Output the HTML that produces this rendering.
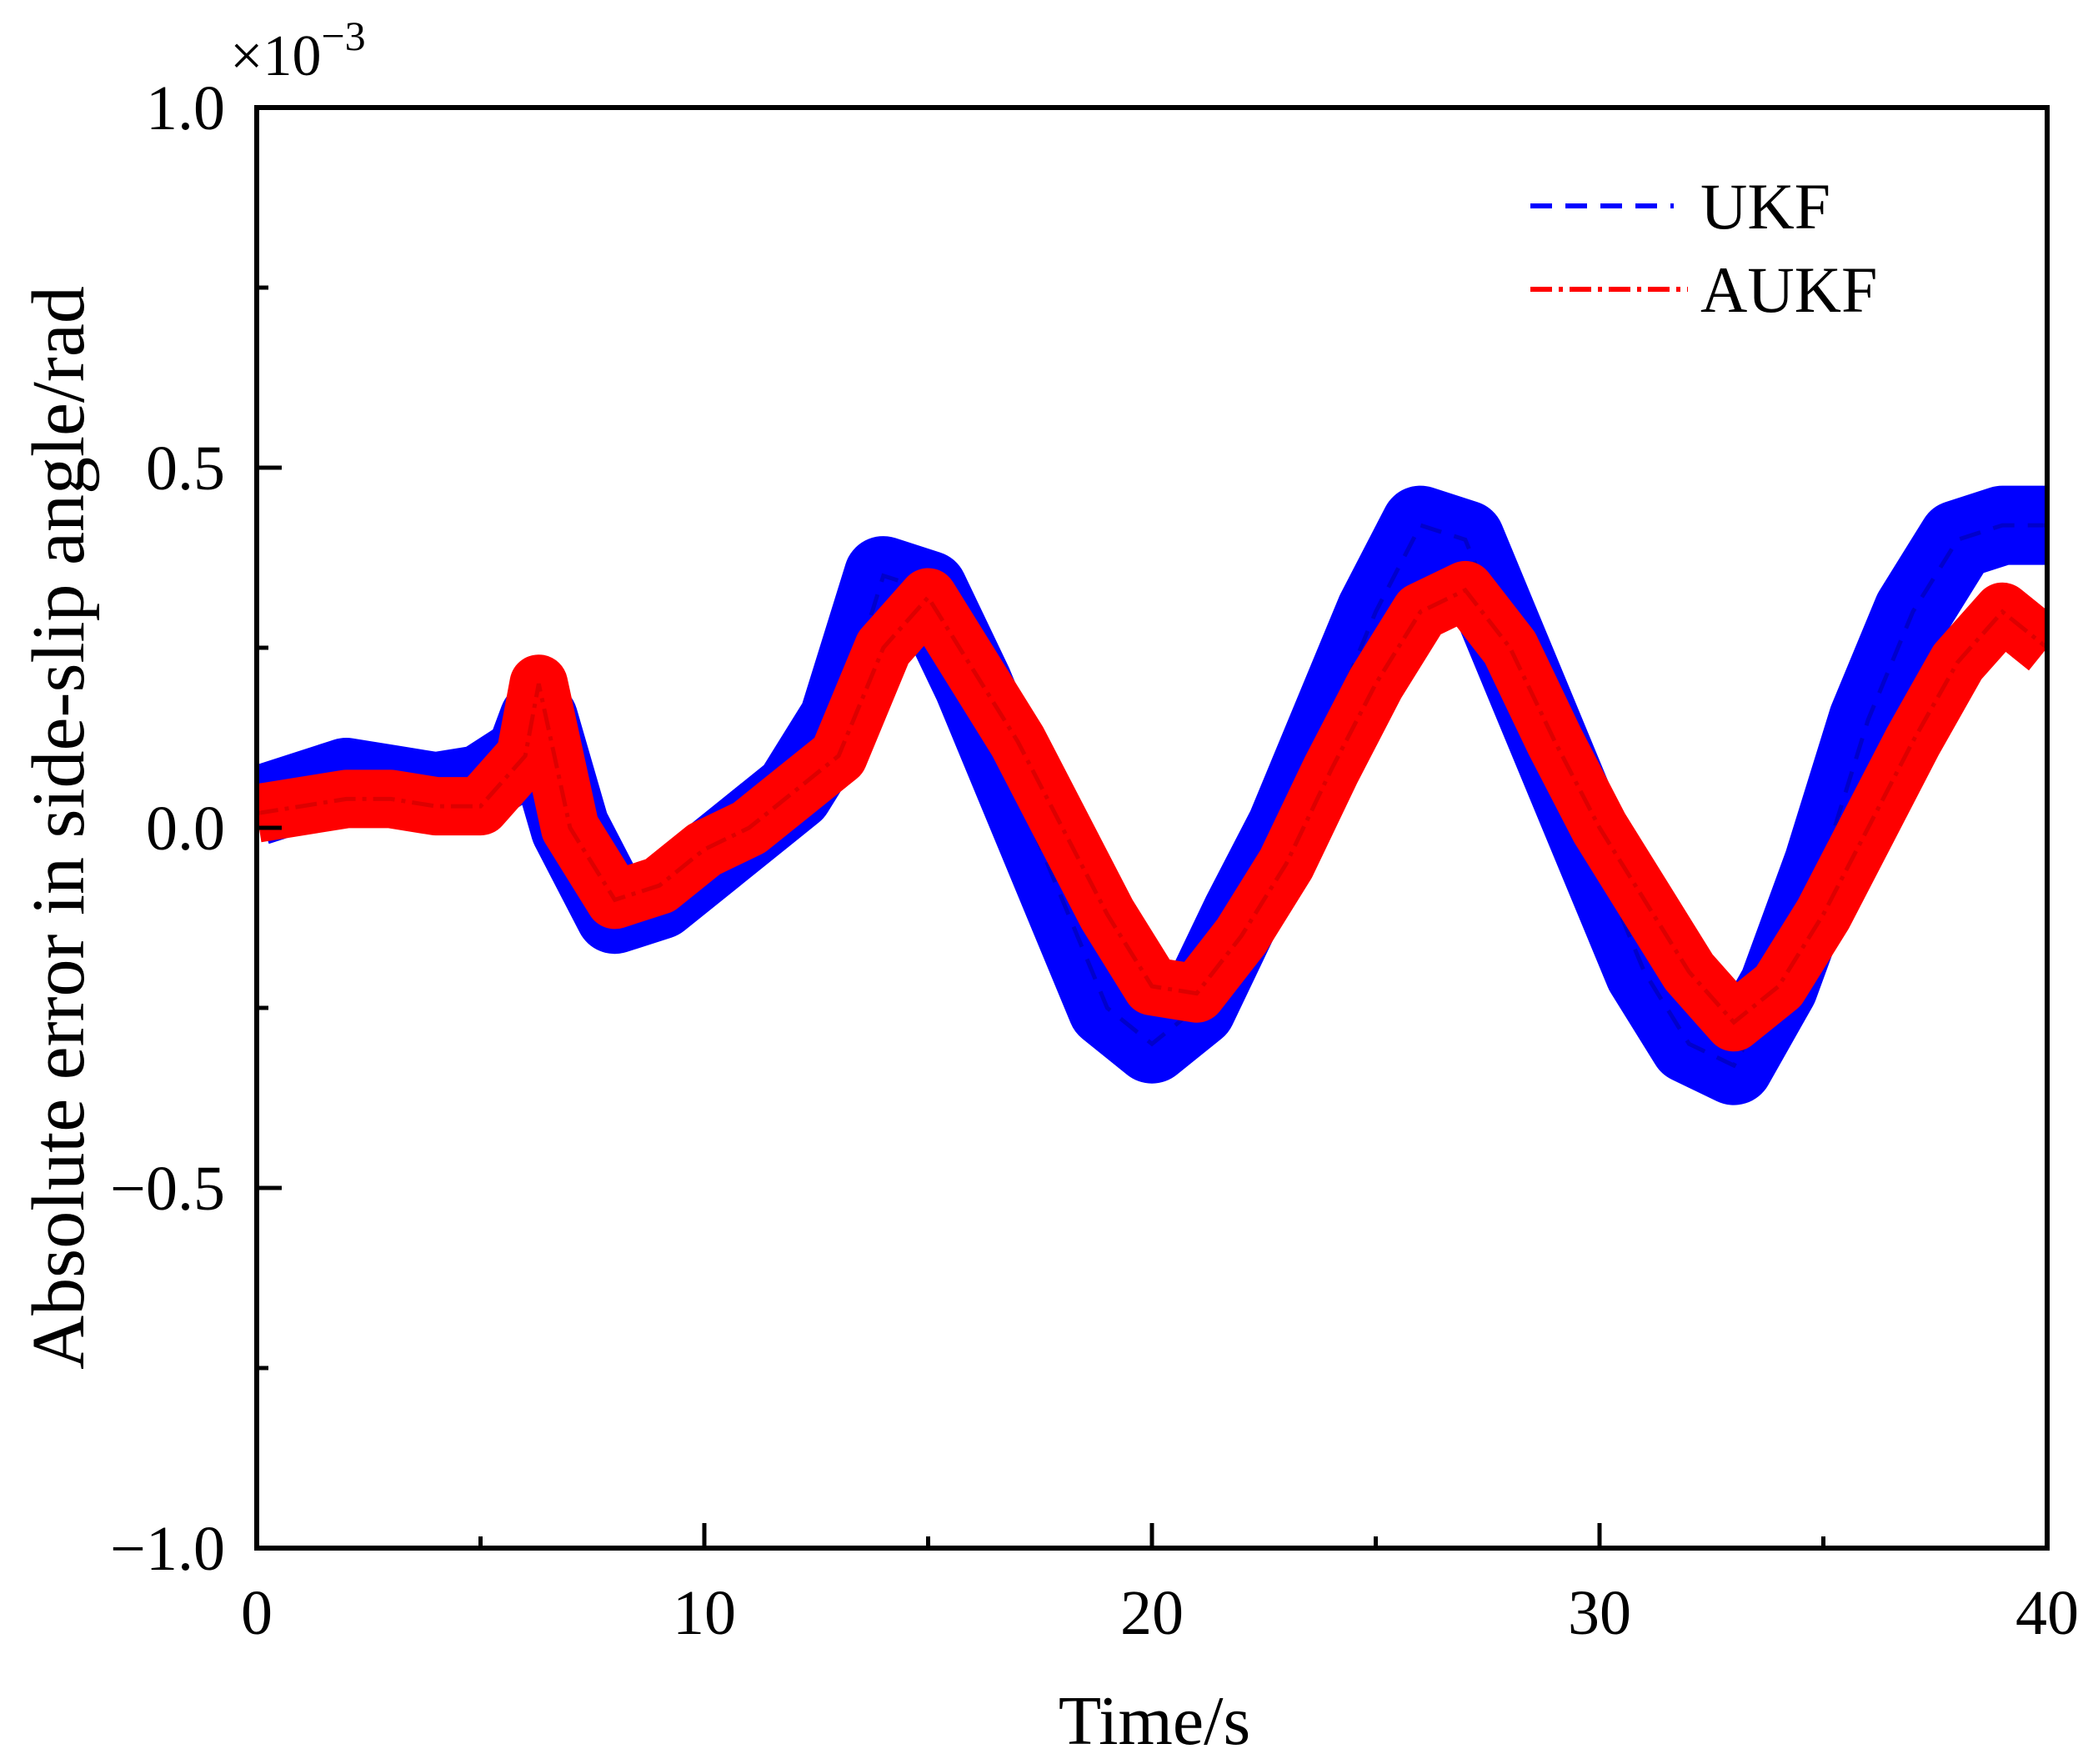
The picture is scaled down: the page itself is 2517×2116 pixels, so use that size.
<!DOCTYPE html>
<html><head><meta charset="utf-8"><style>
body{margin:0;background:#fff;}
svg{display:block;font-family:"Liberation Serif",serif;}
</style></head><body>
<svg id="chart" width="2517" height="2116" viewBox="0 0 2517 2116" xmlns="http://www.w3.org/2000/svg">
<defs><clipPath id="pc"><rect x="308" y="129" width="2148" height="1728"/></clipPath></defs>
<g id="plot" clip-path="url(#pc)"></g>
<rect x="308" y="129" width="2148" height="1728" fill="none" stroke="#000" stroke-width="6"/>
<g id="axes"></g>
<text x="276" y="90" font-size="70">×10<tspan dy="-30" font-size="50">−3</tspan></text>
<text x="1385" y="2092" font-size="84" text-anchor="middle">Time/s</text>
<text transform="translate(100,993) rotate(-90)" font-size="90" text-anchor="middle">Absolute error in side-slip angle/rad</text>
<g>
<line x1="1836" y1="247" x2="2008" y2="247" stroke="#0000ff" stroke-width="6" stroke-dasharray="26,16"/>
<text x="2040" y="274" font-size="78">UKF</text>
<line x1="1836" y1="347" x2="2025" y2="347" stroke="#ff0000" stroke-width="6" stroke-dasharray="26,8,5,8"/>
<text x="2040" y="374" font-size="78">AUKF</text>
</g>
</svg>
<script>
const times=[0,1,2,3,4,5,6,6.3,7,8,9,10,11,12,13,14,15,16,17,18,19,20,21,22,23,24,25,26,27,28,29,30,31,32,33,34,35,36,37,38,39,40];
const ukfValues=[0.03,0.05,0.07,0.06,0.05,0.06,0.1,0.15,0.0,-0.12,-0.1,-0.05,0.0,0.05,0.15,0.35,0.33,0.2,0.05,-0.1,-0.25,-0.3,-0.25,-0.12,0.0,0.15,0.3,0.42,0.4,0.25,0.1,-0.05,-0.2,-0.3,-0.33,-0.22,-0.05,0.15,0.3,0.4,0.42,0.42];
const aukfValues=[0.02,0.03,0.04,0.04,0.03,0.03,0.1,0.2,0.0,-0.1,-0.08,-0.03,0.0,0.05,0.1,0.25,0.32,0.22,0.12,0.0,-0.12,-0.22,-0.23,-0.15,-0.05,0.08,0.2,0.3,0.33,0.25,0.12,0.0,-0.1,-0.2,-0.27,-0.22,-0.12,0.0,0.12,0.23,0.3,0.25];
const xTicks=[0,10,20,30,40];
const xMinor=[5,15,25,35];
const yTicks=[-1.0,-0.5,0.0,0.5,1.0];
const yTickLabels=["−1.0","−0.5","0.0","0.5","1.0"];
const yMinor=[-0.75,-0.25,0.25,0.75];

const X0=308,X1=2456,Y0=1857,Y1=129;
const xs=t=>X0+(t-0)/(40-0)*(X1-X0);
const ys=v=>Y0-(v+1)/(2)*(Y0-Y1);
const NS="http://www.w3.org/2000/svg";
const plot=document.getElementById('plot'),axes=document.getElementById('axes');
function mk(tag,attrs,parent){const e=document.createElementNS(NS,tag);for(const k in attrs)e.setAttribute(k,attrs[k]);parent.appendChild(e);return e;}
function pts(vals){return times.map((t,i)=>xs(t).toFixed(1)+','+ys(vals[i]).toFixed(1)).join(' ');}

const ub=mk('polyline',{points:pts(ukfValues),fill:'none',stroke:'#0000ff','stroke-width':95,'stroke-linejoin':'round','stroke-linecap':'butt'},plot);


const ul=mk('polyline',{points:pts(ukfValues),fill:'none',stroke:'#0000cc','stroke-width':5,'stroke-dasharray':'26,16'},plot);


const rb=mk('polyline',{points:pts(aukfValues),fill:'none',stroke:'#ff0000','stroke-width':70,'stroke-linejoin':'round','stroke-linecap':'butt'},plot);


const rl=mk('polyline',{points:pts(aukfValues),fill:'none',stroke:'#dd0000','stroke-width':5,'stroke-dasharray':'26,8,5,8'},plot);



xTicks.forEach(t=>{
  const l=mk('line',{x1:xs(t),x2:xs(t),y1:Y0,y2:Y0-30,stroke:'#000','stroke-width':5},axes);
  
  
  const tx=mk('text',{x:xs(t),y:1960,'font-size':76,'text-anchor':'middle'},axes);
  tx.textContent=t;
  
  
});
xMinor.forEach(t=>{
  const l=mk('line',{x1:xs(t),x2:xs(t),y1:Y0,y2:Y0-14,stroke:'#000','stroke-width':5},axes);
  
  
});
yTicks.forEach((v,i)=>{
  const l=mk('line',{x1:X0,x2:X0+30,y1:ys(v),y2:ys(v),stroke:'#000','stroke-width':5},axes);
  
  
  const tx=mk('text',{x:270,y:ys(v)+26,'font-size':76,'text-anchor':'end'},axes);
  tx.textContent=yTickLabels[i];
  
  
});
yMinor.forEach(v=>{
  const l=mk('line',{x1:X0,x2:X0+14,y1:ys(v),y2:ys(v),stroke:'#000','stroke-width':5},axes);
  
  
});
</script>
</body></html>
